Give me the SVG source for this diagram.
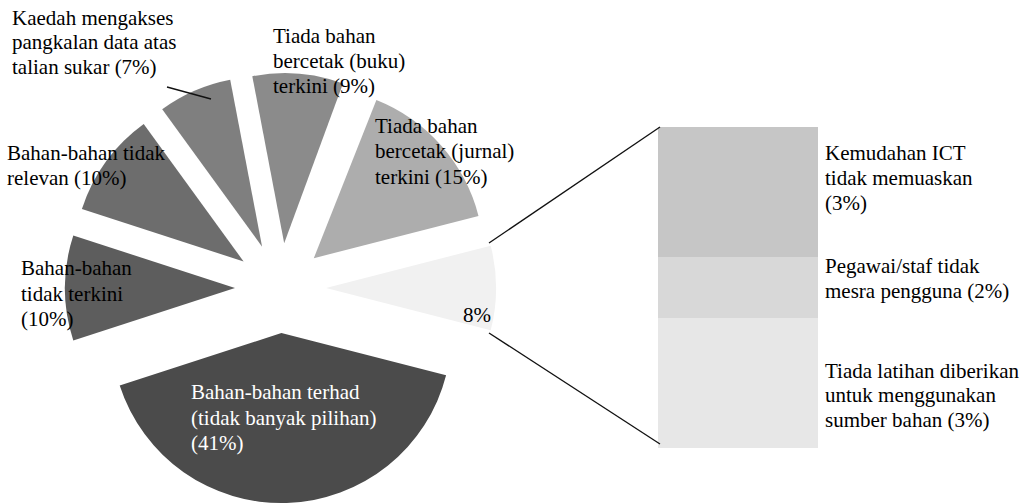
<svg xmlns="http://www.w3.org/2000/svg" width="1026" height="504" viewBox="0 0 1026 504">
<rect width="1026" height="504" fill="#ffffff"/>
<g id="slice-terhad"><path d="M281.4,333 L446.1,375.3 A170,170 0 0 1 119.7,385.5 Z" fill="#4b4b4b"/></g>
<g id="slice-tidak-terkini"><path d="M235,288 L73.3,340.5 A170,170 0 0 1 73.3,235.5 Z" fill="#5d5d5d"/></g>
<g id="slice-tidak-relevan"><path d="M243.6,261.5 L81.9,209 A170,170 0 0 1 143.7,124 Z" fill="#6d6d6d"/></g>
<g id="slice-mengakses"><path d="M262.1,246.7 L162.2,109.2 A170,170 0 0 1 230.2,79.7 Z" fill="#7f7f7f"/></g>
<g id="slice-buku"><path d="M284.2,243.2 L252.3,76.2 A170,170 0 0 1 343,83.5 Z" fill="#8b8b8b"/></g>
<g id="slice-jurnal"><path d="M313.8,258.2 L376.4,100.1 A170,170 0 0 1 478.5,215.9 Z" fill="#adadad"/></g>
<g id="slice-lain"><path d="M326,288 L490.7,245.7 A170,170 0 0 1 490.7,330.3 Z" fill="#f1f1f1"/></g>
<g id="bar-ict"><rect x="658" y="127" width="160" height="130" fill="#c6c6c6"/></g>
<g id="bar-staf"><rect x="658" y="257" width="160" height="61" fill="#d8d8d8"/></g>
<g id="bar-latihan"><rect x="658" y="318" width="160" height="130" fill="#e7e7e7"/></g>
<g id="connectors" stroke="#111" stroke-width="1.3" fill="none">
<line x1="167" y1="87" x2="211" y2="99"/>
<line x1="489" y1="243" x2="660" y2="127"/>
<line x1="489" y1="333" x2="660" y2="444"/>
</g>
<text font-family="Liberation Serif" font-size="21" fill="#ffffff" x="191" y="399">Bahan-bahan terhad</text>
<text font-family="Liberation Serif" font-size="21" fill="#ffffff" x="191" y="425">(tidak banyak pilihan)</text>
<text font-family="Liberation Serif" font-size="21" fill="#ffffff" x="191" y="450">(41%)</text>
<text font-family="Liberation Serif" font-size="21" x="21" y="275">Bahan-bahan</text>
<text font-family="Liberation Serif" font-size="21" x="21" y="301">tidak terkini</text>
<text font-family="Liberation Serif" font-size="21" x="21" y="326">(10%)</text>
<text font-family="Liberation Serif" font-size="21" x="7" y="160">Bahan-bahan tidak</text>
<text font-family="Liberation Serif" font-size="21" x="7" y="185">relevan (10%)</text>
<text font-family="Liberation Serif" font-size="21" x="12" y="25">Kaedah mengakses</text>
<text font-family="Liberation Serif" font-size="21" x="12" y="49">pangkalan data atas</text>
<text font-family="Liberation Serif" font-size="21" x="12" y="74">talian sukar (7%)</text>
<text font-family="Liberation Serif" font-size="21" x="273" y="43">Tiada bahan</text>
<text font-family="Liberation Serif" font-size="21" x="273" y="68">bercetak (buku)</text>
<text font-family="Liberation Serif" font-size="21" x="273" y="93">terkini (9%)</text>
<text font-family="Liberation Serif" font-size="21" x="375" y="133">Tiada bahan</text>
<text font-family="Liberation Serif" font-size="21" x="375" y="158">bercetak (jurnal)</text>
<text font-family="Liberation Serif" font-size="21" x="375" y="184">terkini (15%)</text>
<text font-family="Liberation Serif" font-size="21" x="463" y="322">8%</text>
<text font-family="Liberation Serif" font-size="21" x="825" y="160">Kemudahan ICT</text>
<text font-family="Liberation Serif" font-size="21" x="825" y="185">tidak memuaskan</text>
<text font-family="Liberation Serif" font-size="21" x="825" y="210">(3%)</text>
<text font-family="Liberation Serif" font-size="21" x="825" y="273">Pegawai/staf tidak</text>
<text font-family="Liberation Serif" font-size="21" x="825" y="298">mesra pengguna (2%)</text>
<text font-family="Liberation Serif" font-size="21" x="825" y="378">Tiada latihan diberikan</text>
<text font-family="Liberation Serif" font-size="21" x="825" y="402">untuk menggunakan</text>
<text font-family="Liberation Serif" font-size="21" x="825" y="427">sumber bahan (3%)</text>
</svg>
